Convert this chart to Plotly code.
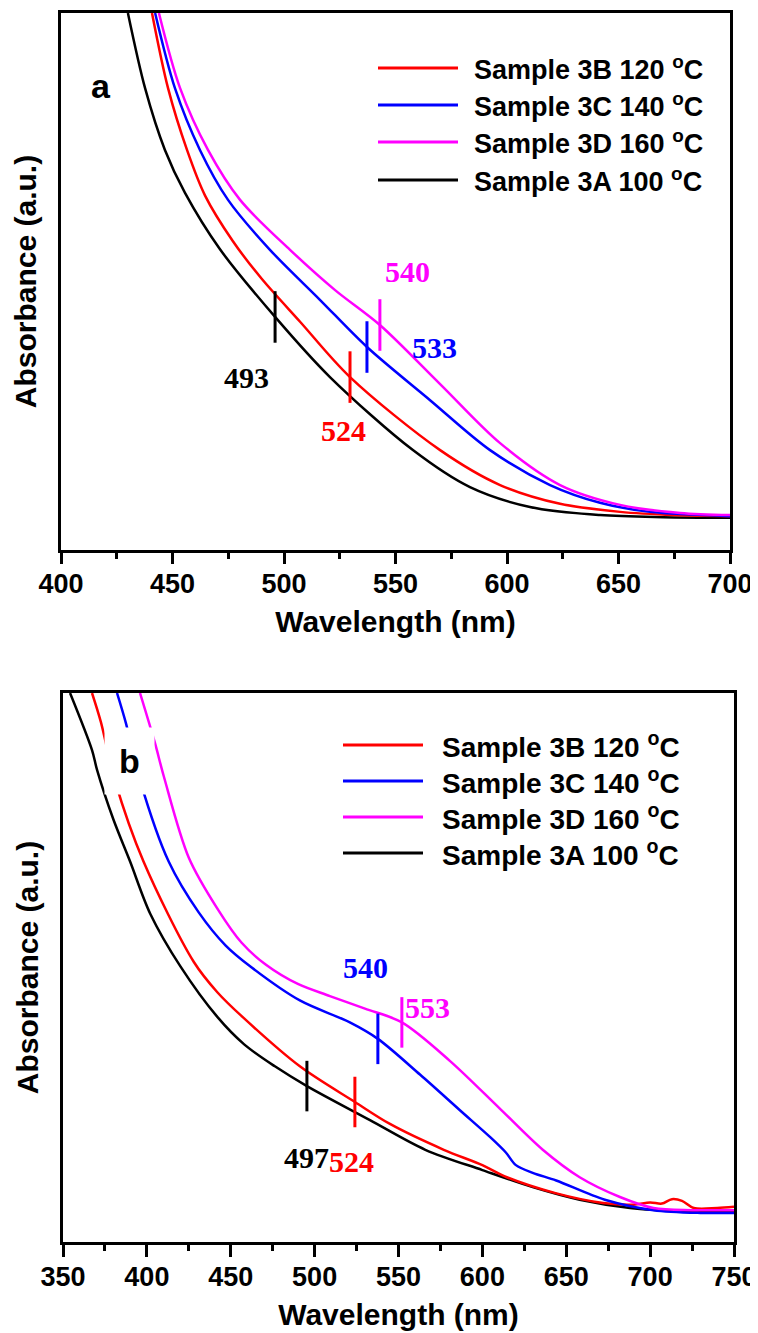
import numpy as np
import plotly.graph_objects as go

# The page body has an 8px margin, so the figure is drawn 8px in from the window edge.
OFF = 8
W, H = 758 - OFF, 1333 - OFF

# ---------------- data ----------------
series_names = ["Sample 3B 120 ºC", "Sample 3C 140 ºC", "Sample 3D 160 ºC", "Sample 3A 100 ºC"]
series_keys = ["3B", "3C", "3D", "3A"]
series_colors = ["#FF0000", "#0000FF", "#FF00FF", "#000000"]

# Panel a  (wavelength nm, absorbance a.u. normalised to the frame)
a_3A_wl = [430.0, 437.7, 446.6, 455.6, 471.3, 496.0, 520.6, 557.8, 583.4, 610.3, 641.7, 670, 700]
a_3A_ab = [1.000, 0.860, 0.745, 0.665, 0.560, 0.434, 0.322, 0.186, 0.117, 0.080, 0.065, 0.061, 0.060]
a_3B_wl = [440.8, 448.0, 456.5, 464.6, 477.1, 490.0, 507.2, 529.6, 570.0, 596.9, 623.8, 650.7, 675, 700]
a_3B_ab = [1.000, 0.860, 0.745, 0.660, 0.575, 0.505, 0.425, 0.322, 0.186, 0.121, 0.086, 0.071, 0.065, 0.063]
a_3C_wl = [442.2, 451.1, 462.3, 474.9, 493.7, 516.1, 537.2, 565.5, 592.4, 619.3, 641.7, 664.1, 700]
a_3C_ab = [1.000, 0.860, 0.745, 0.652, 0.559, 0.466, 0.378, 0.279, 0.186, 0.121, 0.088, 0.071, 0.063]
a_3D_wl = [443.9, 453.4, 465.9, 480.3, 502.7, 522.9, 543.0, 570.0, 596.9, 623.8, 650.7, 677.6, 700]
a_3D_ab = [1.000, 0.860, 0.745, 0.652, 0.559, 0.484, 0.419, 0.309, 0.199, 0.121, 0.084, 0.069, 0.065]

# Panel b
b_3A_wl = [354.2, 367.3, 370.3, 380, 390, 402, 420, 442, 458, 476.3, 495.4, 533, 566, 600, 630, 658, 688, 720, 750]
b_3A_ab = [1.000, 0.896, 0.860, 0.770, 0.693, 0.598, 0.502, 0.410, 0.360, 0.320, 0.284, 0.222, 0.168, 0.131, 0.100, 0.077, 0.062, 0.056, 0.055]
b_3B_wl = [367.3, 372.6, 381, 398, 428, 442, 457, 491.2, 524, 544.9, 577, 600, 614.6, 643.6, 672, 690, 700, 707, 713, 719, 726, 740, 750]
b_3B_ab = [1.000, 0.947, 0.840, 0.693, 0.510, 0.455, 0.410, 0.320, 0.255, 0.215, 0.168, 0.140, 0.118, 0.089, 0.071, 0.068, 0.072, 0.070, 0.078, 0.075, 0.062, 0.062, 0.064]
b_3C_wl = [382.2, 387.5, 396, 413, 431, 447, 462.5, 491.2, 521, 537.7, 562.8, 586.6, 605, 614, 620, 630, 644, 673, 702, 730, 750]
b_3C_ab = [1.000, 0.945, 0.840, 0.693, 0.600, 0.540, 0.500, 0.440, 0.400, 0.370, 0.305, 0.240, 0.190, 0.163, 0.140, 0.126, 0.112, 0.077, 0.058, 0.053, 0.053]
b_3D_wl = [395.9, 404.8, 410.2, 425, 442.5, 456.5, 471, 490, 509.1, 530, 552, 580.6, 610.4, 636, 658, 682, 702, 725, 750]
b_3D_ab = [1.000, 0.909, 0.847, 0.700, 0.605, 0.545, 0.505, 0.470, 0.448, 0.425, 0.400, 0.330, 0.243, 0.168, 0.118, 0.082, 0.062, 0.058, 0.058]

# band-edge markers: position (nm) and label text
a_edge_pos = {"3A": 496, "3B": 529.6, "3C": 537.2, "3D": 543}
a_edge_lbl = {"3A": "493", "3B": "524", "3C": "533", "3D": "540"}
b_edge_pos = {"3A": 495.4, "3B": 524, "3C": 537.7, "3D": 552}
b_edge_lbl = {"3A": "497", "3B": "524", "3C": "540", "3D": "553"}

x_a_ticks = [400, 450, 500, 550, 600, 650, 700]
x_b_ticks = [350, 400, 450, 500, 550, 600, 650, 700, 750]


def px(X):
    return (X - OFF) / W


def py(Y):
    return 1 - (Y - OFF) / H


# ---------------- figure ----------------
fig = go.Figure()
panels = {
    "a": dict(data={"3A": (a_3A_wl, a_3A_ab), "3B": (a_3B_wl, a_3B_ab),
                    "3C": (a_3C_wl, a_3C_ab), "3D": (a_3D_wl, a_3D_ab)},
              xa="x", ya="y"),
    "b": dict(data={"3A": (b_3A_wl, b_3A_ab), "3B": (b_3B_wl, b_3B_ab),
                    "3C": (b_3C_wl, b_3C_ab), "3D": (b_3D_wl, b_3D_ab)},
              xa="x2", ya="y2"),
}
draw_order = ["3A", "3B", "3C", "3D"]
color_of = dict(zip(series_keys, series_colors))
name_of = dict(zip(series_keys, series_names))

for pkey, p in panels.items():
    for k in draw_order:
        wl, ab = p["data"][k]
        fig.add_trace(go.Scatter(x=wl, y=ab, mode="lines", name=name_of[k],
                                 line=dict(color=color_of[k], width=2.5, shape="spline", smoothing=0.9),
                                 xaxis=p["xa"], yaxis=p["ya"], showlegend=False,
                                 cliponaxis=True))


def add_edges(pkey, pos, lbl, lbl_xy, half):
    p = panels[pkey]
    for k in draw_order:
        wl, ab = p["data"][k]
        yc = float(np.interp(pos[k], wl, ab))
        fig.add_shape(type="line", xref=p["xa"], yref=p["ya"], x0=pos[k], x1=pos[k],
                      y0=yc - half, y1=yc + half, line=dict(color=color_of[k], width=3))
        lx, ly = lbl_xy[k]
        fig.add_annotation(x=lx, y=ly, xref=p["xa"], yref=p["ya"], text=lbl[k], showarrow=False,
                           font=dict(family="Liberation Serif", size=30, color=color_of[k], weight="bold"),
                           xanchor="center", yanchor="middle")


add_edges("a", a_edge_pos, a_edge_lbl,
          {"3A": (483.4, 0.322), "3B": (526.5, 0.223), "3C": (567.7, 0.378), "3D": (555.6, 0.518)}, 0.048)
add_edges("b", b_edge_pos, b_edge_lbl,
          {"3A": (495.4, 0.154), "3B": (522, 0.146), "3C": (530.6, 0.50), "3D": (567.5, 0.427)}, 0.046)


# legends drawn with long line samples, as in the original
def add_legend(x_line0, x_line1, x_text, ys, size):
    for k, y in zip(series_keys, ys):
        fig.add_shape(type="line", xref="paper", yref="paper", x0=px(x_line0), x1=px(x_line1),
                      y0=py(y), y1=py(y), line=dict(color=color_of[k], width=3))
        txt = name_of[k].replace("ºC", "<sup>o</sup>C")
        fig.add_annotation(x=px(x_text), y=py(y), xref="paper", yref="paper", text=txt,
                           showarrow=False, xanchor="left", yanchor="middle",
                           font=dict(family="Liberation Sans", size=size, color="black", weight="bold"))


add_legend(378, 458, 472, [68, 105, 142, 180], 27)
add_legend(343, 423, 440, [745, 781, 817, 853], 28)

# panel letters
fig.add_annotation(x=px(101), y=py(86), xref="paper", yref="paper", text="a", showarrow=False,
                   xanchor="center", yanchor="middle",
                   font=dict(family="Liberation Sans", size=34, color="black", weight="bold"))
fig.add_annotation(x=px(130), y=py(761), xref="paper", yref="paper", text="b", showarrow=False,
                   xanchor="center", yanchor="middle",
                   font=dict(family="Liberation Sans", size=34, color="black", weight="bold"),
                   bgcolor="white", borderpad=14)

axis_common = dict(showline=True, linewidth=3, linecolor="black", mirror=True, showgrid=False,
                   zeroline=False, automargin=False)
xfont = dict(family="Liberation Sans", size=27, color="black", weight="bold")
title_font = dict(family="Liberation Sans", size=30, color="black", weight="bold")

fig.update_layout(
    width=W, height=H, margin=dict(l=0, r=0, t=0, b=0, autoexpand=False),
    paper_bgcolor="white", plot_bgcolor="white", showlegend=False,
    font=dict(family="Liberation Sans"),
    xaxis=dict(domain=[px(61), px(730)], range=[400, 700], anchor="y", tickvals=x_a_ticks,
               ticks="outside", ticklen=11, tickwidth=2.5, tickcolor="black", ticklabelstandoff=-3,
               minor=dict(dtick=25, tick0=400, ticks="outside", ticklen=6, tickwidth=2.5, tickcolor="black"),
               tickfont=xfont, title=dict(text="Wavelength (nm)", font=title_font, standoff=13),
               **axis_common),
    yaxis=dict(domain=[py(550), py(13)], range=[0, 1], anchor="x", showticklabels=False,
               ticks="", title=dict(text="Absorbance (a.u.)", font=title_font, standoff=13),
               **axis_common),
    xaxis2=dict(domain=[px(63), px(734)], range=[350, 750], anchor="y2", tickvals=x_b_ticks,
                ticks="outside", ticklen=12, tickwidth=2.5, tickcolor="black", ticklabelstandoff=-3,
                minor=dict(dtick=25, tick0=350, ticks="outside", ticklen=6, tickwidth=2.5, tickcolor="black"),
                tickfont=xfont, title=dict(text="Wavelength (nm)", font=title_font, standoff=13),
                **axis_common),
    yaxis2=dict(domain=[py(1242), py(693)], range=[0, 1], anchor="x2", showticklabels=False,
                ticks="", title=dict(text="Absorbance (a.u.)", font=title_font, standoff=13),
                **axis_common),
)

fig.write_html("out.html")
